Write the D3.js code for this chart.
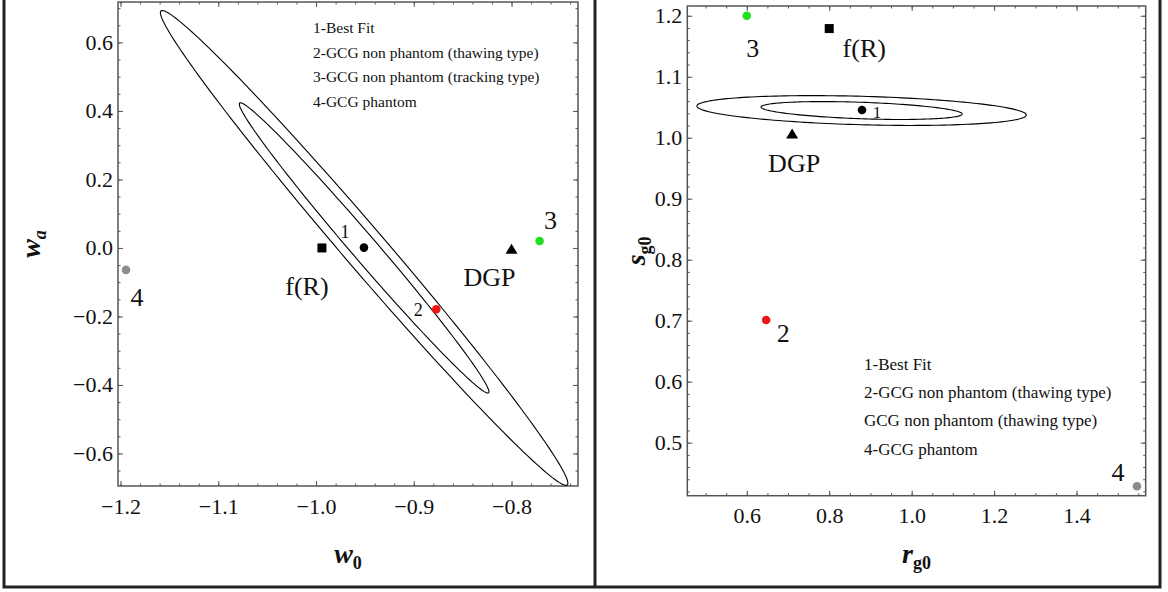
<!DOCTYPE html>
<html>
<head>
<meta charset="utf-8">
<script src="https://cdn.jsdelivr.net/npm/d3@7"></script>
<style>
body { margin: 0; background: #fff; }
text { font-family: "Liberation Serif", "Times New Roman", serif; }
</style>
</head>
<body>
<div id="chart"></div>
<script>

// ---- left panel (w0, wa) ----
var leftXDomain = [-1.2026, -0.732];
var leftYDomain = [-0.695, 0.718];
var leftXTicks = [-1.2, -1.1, -1.0, -0.9, -0.8];
var leftYTicks = [-0.6, -0.4, -0.2, 0.0, 0.2, 0.4, 0.6];

// ellipse: center, end of major axis, end of conjugate axis
var leftEllipseCenter = [-0.9508, 0.0];
var leftEllipseTips = [[-0.743, -0.692], [-0.8235, -0.423]];
var leftEllipseConj = [[-0.9345, 0.0397], [-0.941, 0.0242]];

var leftNames = ["1", "f(R)", "DGP", "2", "3", "4"];
var leftX = [-0.951, -0.994, -0.800, -0.877, -0.7713, -1.1944];
var leftY = [0.001, 0.0, -0.004, -0.179, 0.0204, -0.064];

var leftLegend = ["1-Best Fit", "2-GCG non phantom (thawing type)",
                  "3-GCG non phantom (tracking type)", "4-GCG phantom"];

// ---- right panel (rg0, sg0) ----
var rightXDomain = [0.4557, 1.5677];
var rightYDomain = [0.413, 1.216];
var rightXTicks = [0.6, 0.8, 1.0, 1.2, 1.4];
var rightYTicks = [0.5, 0.6, 0.7, 0.8, 0.9, 1.0, 1.1, 1.2];

var rightEllipseCenter = [0.8785, 1.0446];
var rightEllipseTips = [[1.278, 1.0372], [1.1225, 1.0389]];
var rightEllipseConj = [[0.8775, 1.0213], [0.8785, 1.0311]];

var rightNames = ["1", "f(R)", "DGP", "2", "3", "4"];
var rightX = [0.8795, 0.8, 0.71, 0.647, 0.6, 1.5465];
var rightY = [1.0454, 1.179, 1.006, 0.701, 1.2, 0.4285];

var rightLegend = ["1-Best Fit", "2-GCG non phantom (thawing type)",
                   "GCG non phantom (thawing type)", "4-GCG phantom"];

// marker styles per name
var markStyle = {
  "1":    {shape: "circle",   fill: "#000"},
  "f(R)": {shape: "square",   fill: "#000"},
  "DGP":  {shape: "triangle", fill: "#000"},
  "2":    {shape: "circle",   fill: "#f01414"},
  "3":    {shape: "circle",   fill: "#1ee01e"},
  "4":    {shape: "circle",   fill: "#8c8c8c"}
};

// label offsets (px from the marker), font size
var leftLabelPos = {
  "1":    [-19, -10, 18], "f(R)": [-15, 47, 26], "DGP": [-22, 37, 26],
  "2":    [-18, 7, 18],   "3":    [11, -12, 26],  "4":  [11, 36, 26]
};
var rightLabelPos = {
  "1":    [15, 8, 17],    "f(R)": [35, 28, 26],  "DGP": [2, 38, 26],
  "2":    [17, 22, 26],   "3":    [6, 41, 26],   "4":  [-19, -5, 26]
};

var width = 1168, height = 592;
var serif = '"Liberation Serif", "Times New Roman", serif';

var svg = d3.select("#chart")
  .append("svg")
  .attr("width", width)
  .attr("height", height);

// outer box + divider
svg.append("rect")
  .attr("x", 4).attr("y", -6)
  .attr("width", 1156).attr("height", 593)
  .attr("fill", "none")
  .attr("stroke", "#222")
  .attr("stroke-width", 3);
svg.append("line")
  .attr("x1", 595).attr("x2", 595)
  .attr("y1", 0).attr("y2", 587)
  .attr("stroke", "#222")
  .attr("stroke-width", 3);

function minorTicks(domain, step) {
  var lo = Math.ceil(domain[0] / step - 1e-9), hi = Math.floor(domain[1] / step + 1e-9);
  return d3.range(lo, hi + 1).map(function(i) { return +(i * step).toFixed(4); });
}

function panel(opt) {
  var x = d3.scaleLinear().domain(opt.xDomain).range([opt.left, opt.right]);
  var y = d3.scaleLinear().domain(opt.yDomain).range([opt.bottom, opt.top]);
  var g = svg.append("g");
  var fmt = d3.format(".1f");

  // minor ticks on all sides
  var xm = minorTicks(opt.xDomain, opt.xMinor), ym = minorTicks(opt.yDomain, opt.yMinor);
  g.append("g").attr("transform", "translate(0," + opt.bottom + ")")
    .call(d3.axisBottom(x).tickValues(xm).tickSize(-2.5).tickFormat(""));
  g.append("g").attr("transform", "translate(0," + opt.top + ")")
    .call(d3.axisTop(x).tickValues(xm).tickSize(-2.5).tickFormat(""));
  g.append("g").attr("transform", "translate(" + opt.left + ",0)")
    .call(d3.axisLeft(y).tickValues(ym).tickSize(-2.5).tickFormat(""));
  g.append("g").attr("transform", "translate(" + opt.right + ",0)")
    .call(d3.axisRight(y).tickValues(ym).tickSize(-2.5).tickFormat(""));

  // major ticks
  g.append("g").attr("class", "lab").attr("transform", "translate(0," + opt.bottom + ")")
    .call(d3.axisBottom(x).tickValues(opt.xTicks).tickSize(-5).tickPadding(12).tickFormat(fmt))
    .attr("font-family", serif).attr("font-size", 22);
  g.append("g").attr("transform", "translate(0," + opt.top + ")")
    .call(d3.axisTop(x).tickValues(opt.xTicks).tickSize(-5).tickFormat(""));
  g.append("g").attr("class", "lab").attr("transform", "translate(" + opt.left + ",0)")
    .call(d3.axisLeft(y).tickValues(opt.yTicks).tickSize(-5).tickPadding(5).tickFormat(fmt))
    .attr("font-family", serif).attr("font-size", 22);
  g.append("g").attr("transform", "translate(" + opt.right + ",0)")
    .call(d3.axisRight(y).tickValues(opt.yTicks).tickSize(-5).tickFormat(""));

  g.selectAll(".domain").remove();
  g.selectAll(".tick line").attr("stroke", "#555").attr("stroke-width", 1);
  g.selectAll(".lab text")
    .style("font-family", serif)
    .style("font-size", "22px")
    .attr("fill", "#111");

  // frame
  g.append("rect")
    .attr("x", opt.left).attr("y", opt.top)
    .attr("width", opt.right - opt.left).attr("height", opt.bottom - opt.top)
    .attr("fill", "none").attr("stroke", "#555").attr("stroke-width", 1.5);

  // ellipses
  var line = d3.line().x(function(d) { return x(d[0]); }).y(function(d) { return y(d[1]); })
    .curve(d3.curveLinearClosed);
  var c = opt.center;
  opt.tips.forEach(function(tip, i) {
    var conj = opt.conj[i];
    var pts = d3.range(0, 360, 2).map(function(a) {
      var t = a * Math.PI / 180;
      return [c[0] + (tip[0] - c[0]) * Math.cos(t) + (conj[0] - c[0]) * Math.sin(t),
              c[1] + (tip[1] - c[1]) * Math.cos(t) + (conj[1] - c[1]) * Math.sin(t)];
    });
    g.append("path").attr("d", line(pts))
      .attr("fill", "none").attr("stroke", "#000").attr("stroke-width", 1.1);
  });

  // points + labels
  opt.names.forEach(function(name, i) {
    var px = x(opt.xs[i]), py = y(opt.ys[i]);
    var s = markStyle[name];
    if (s.shape === "circle") {
      g.append("circle").attr("cx", px).attr("cy", py).attr("r", 4.3).attr("fill", s.fill);
    } else if (s.shape === "square") {
      g.append("rect").attr("x", px - 4.5).attr("y", py - 4.5)
        .attr("width", 9).attr("height", 9).attr("fill", s.fill);
    } else {
      g.append("path")
        .attr("d", "M" + px + "," + (py - 5.5) + "L" + (px + 6) + "," + (py + 4.5) + "L" + (px - 6) + "," + (py + 4.5) + "Z")
        .attr("fill", s.fill);
    }
    var lp = opt.labelPos[name];
    g.append("text")
      .attr("x", px + lp[0]).attr("y", py + lp[1])
      .attr("text-anchor", "middle")
      .style("font-size", lp[2] + "px")
      .attr("fill", "#111")
      .text(name);
  });

  // legend text
  g.selectAll(".legend").data(opt.legend).enter().append("text")
    .attr("x", opt.legendX)
    .attr("y", function(d, i) { return opt.legendY + i * opt.legendStep; })
    .style("font-size", opt.legendSize + "px")
    .attr("fill", "#111")
    .text(function(d) { return d; });

  // axis titles
  var xt = g.append("text")
    .attr("x", (opt.left + opt.right) / 2).attr("y", opt.xTitleY)
    .attr("text-anchor", "middle")
    .style("font-weight", "bold").attr("fill", "#111");
  xt.append("tspan").style("font-style", "italic").style("font-size", "28px").text(opt.xTitle[0]);
  xt.append("tspan").attr("dy", 6).style("font-size", "18px").style("font-style", opt.xTitle[2] ? "italic" : "normal").text(opt.xTitle[1]);

  var yt = g.append("text")
    .attr("transform", "translate(" + opt.yTitleX + "," + ((opt.top + opt.bottom) / 2) + ") rotate(-90)")
    .attr("text-anchor", "middle")
    .style("font-weight", "bold").attr("fill", "#111");
  yt.append("tspan").style("font-style", "italic").style("font-size", "28px").text(opt.yTitle[0]);
  yt.append("tspan").attr("dy", 6).style("font-size", "18px").style("font-style", opt.yTitle[2] ? "italic" : "normal").text(opt.yTitle[1]);
}

panel({
  left: 118, right: 578, top: 2, bottom: 486,
  xDomain: leftXDomain, yDomain: leftYDomain,
  xTicks: leftXTicks, yTicks: leftYTicks, xMinor: 0.02, yMinor: 0.05,
  center: leftEllipseCenter, tips: leftEllipseTips, conj: leftEllipseConj,
  names: leftNames, xs: leftX, ys: leftY, labelPos: leftLabelPos,
  legend: leftLegend, legendX: 313, legendY: 33, legendStep: 24.5, legendSize: 15.5,
  xTitle: ["w", "0", false], xTitleY: 563,
  yTitle: ["w", "a", true], yTitleX: 40
});

panel({
  left: 687.3, right: 1145.7, top: 6, bottom: 495.7,
  xDomain: rightXDomain, yDomain: rightYDomain,
  xTicks: rightXTicks, yTicks: rightYTicks, xMinor: 0.05, yMinor: 0.02,
  center: rightEllipseCenter, tips: rightEllipseTips, conj: rightEllipseConj,
  names: rightNames, xs: rightX, ys: rightY, labelPos: rightLabelPos,
  legend: rightLegend, legendX: 864, legendY: 370, legendStep: 28.2, legendSize: 17,
  xTitle: ["r", "g0", false], xTitleY: 563,
  yTitle: ["s", "g0", false], yTitleX: 645
});

</script>
</body>
</html>
